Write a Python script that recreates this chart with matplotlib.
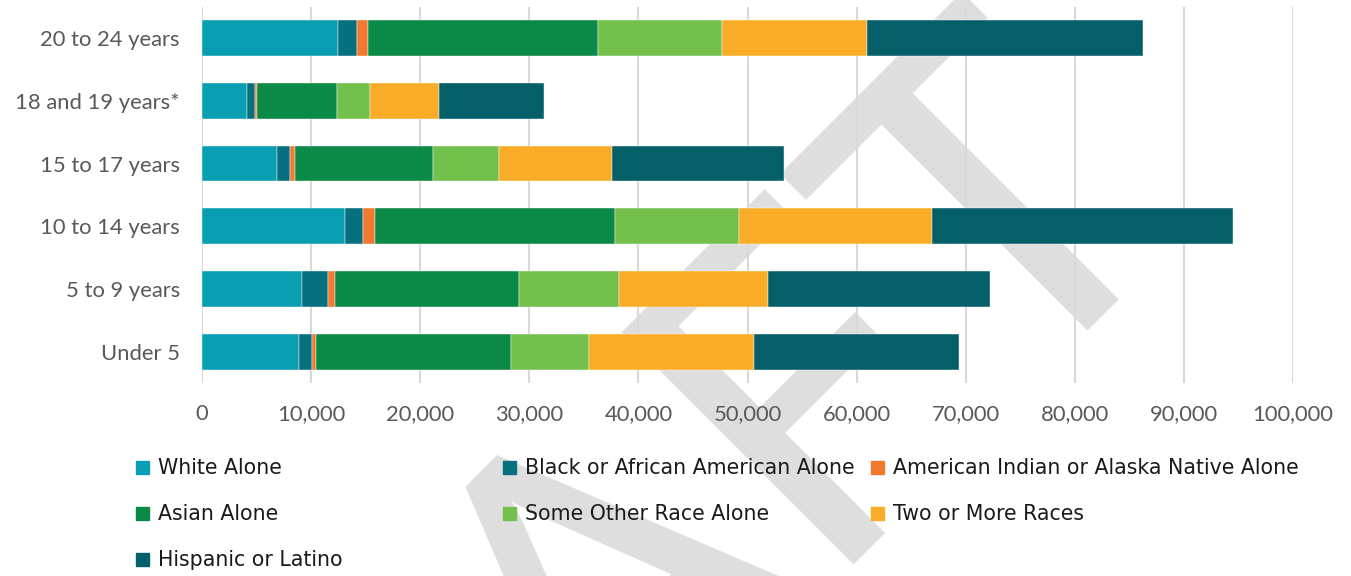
import numpy as np
import matplotlib.pyplot as plt
from matplotlib.patches import Rectangle

# ---- dados (leitura aproximada do grafico) ----
grupos = ["Under 5", "5 to 9 years", "10 to 14 years", "15 to 17 years",
          "18 and 19 years*", "20 to 24 years"]

white = [8900, 9170, 13120, 6910, 4130, 12480]
black = [1220, 2410, 1680, 1130, 730, 1770]
indian = [310, 620, 1070, 460, 210, 980]
asian = [17860, 16820, 21950, 12630, 7340, 21040]
other = [7160, 9170, 11400, 6060, 2960, 11400]
two_more = [15140, 13700, 17710, 10430, 6400, 13280]
hispanic = [18780, 20300, 27600, 15690, 9600, 25320]

series = [
    ("White Alone", white, "#0A9EB2"),
    ("Black or African American Alone", black, "#06707E"),
    ("American Indian or Alaska Native Alone", indian, "#F27A30"),
    ("Asian Alone", asian, "#0B8A47"),
    ("Some Other Race Alone", other, "#73C04C"),
    ("Two or More Races", two_more, "#F9AC28"),
    ("Hispanic or Latino", hispanic, "#055F69"),
]

ticks = np.arange(0, 100001, 10000)

plt.rcParams["font.family"] = ["Lato", "DejaVu Sans"]
fig = plt.figure(figsize=(13.51, 5.76), dpi=100)
ax = fig.add_axes([0.1495, 0.335, 0.8076, 0.653])
ax.set_zorder(1)

# marca d'agua "DRAFT" (fica atras do grafico)
fig.text(0.878, 0.672, "DRAFT", rotation=45, fontsize=330, color="#DEDEDE",
         ha="right", va="baseline", rotation_mode="anchor", zorder=-5)

y = np.arange(len(grupos))
left = np.zeros(len(grupos))
for nome, vals, cor in series:
    ax.barh(y, vals, left=left, height=0.57, color=cor, zorder=3,
            edgecolor="white", linewidth=0.3)
    left += np.array(vals)

ax.set_xlim(0, 100000)
ax.set_ylim(-0.5, len(grupos) - 0.5)
ax.set_xticks(ticks)
ax.set_xticklabels([f"{t:,}" for t in ticks])
ax.set_yticks(y)
ax.set_yticklabels(grupos)
ax.grid(axis="x", color="#D9D9D9", lw=1.5, zorder=1)
ax.tick_params(length=0, labelsize=15.8, colors="#595959")
ax.tick_params(axis="y", pad=16)
ax.tick_params(axis="x", pad=15)
for s in ax.spines.values():
    s.set_visible(False)
ax.set_facecolor("none")
fig.patch.set_facecolor("white")

# ---- legenda em 3 colunas ----
col_x = [136, 503, 871]
row_y = [468, 514, 560]
for i, (nome, vals, cor) in enumerate(series):
    cx = col_x[i % 3] / 1351
    cy = 1 - row_y[i // 3] / 576
    fig.patches.append(Rectangle((cx, cy - 0.011), 0.0097, 0.023,
                                 transform=fig.transFigure, color=cor,
                                 figure=fig, zorder=2))
    fig.text(cx + 0.0165, cy, nome, fontsize=14.8, color="#1A1A1A",
             family="DejaVu Sans", va="center", ha="left", zorder=2)

fig.savefig("out.png", dpi=100, facecolor="white")
